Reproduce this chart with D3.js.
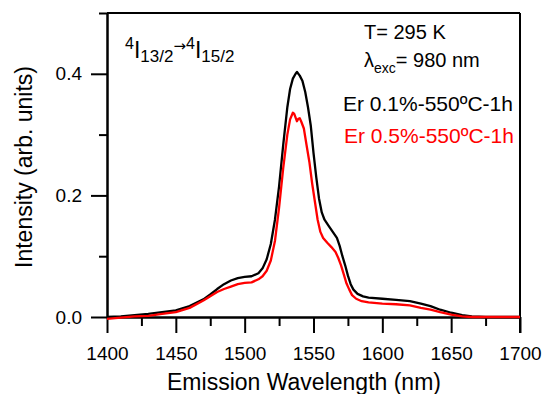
<!DOCTYPE html>
<html>
<head>
<meta charset="utf-8">
<script src="https://d3js.org/d3.v7.min.js"></script>
<style>
  body { margin: 0; background: #fff; }
  svg { display: block; font-family: "Liberation Sans", Arial, sans-serif; }
</style>
</head>
<body>
<div id="chart"></div>
<script>
// Emission spectra (wavelength nm, intensity arb. units)
const wlBlack = [1400, 1410, 1420, 1430, 1440, 1450, 1460, 1470, 1475, 1480, 1485, 1490, 1495, 1500, 1505, 1510, 1513, 1516, 1519, 1522, 1525, 1528, 1531, 1533, 1535, 1537, 1538, 1540, 1542, 1544, 1546, 1548, 1550, 1552, 1554, 1556, 1558, 1561, 1564, 1567, 1569, 1571, 1573, 1575, 1577, 1579, 1582, 1586, 1590, 1600, 1610, 1620, 1628, 1635, 1642, 1650, 1658, 1665, 1675, 1700];
const intBlack = [0.000, 0.001, 0.003, 0.005, 0.008, 0.011, 0.018, 0.029, 0.037, 0.046, 0.054, 0.060, 0.064, 0.066, 0.067, 0.072, 0.080, 0.095, 0.120, 0.160, 0.215, 0.283, 0.345, 0.375, 0.392, 0.400, 0.403, 0.397, 0.388, 0.370, 0.345, 0.315, 0.270, 0.230, 0.195, 0.172, 0.160, 0.150, 0.140, 0.130, 0.117, 0.100, 0.085, 0.068, 0.054, 0.045, 0.038, 0.034, 0.032, 0.030, 0.028, 0.026, 0.022, 0.018, 0.012, 0.007, 0.003, 0.001, 0.000, 0.000];

const wlRed = [1400, 1410, 1420, 1430, 1440, 1450, 1460, 1470, 1475, 1480, 1485, 1490, 1495, 1500, 1505, 1510, 1513, 1516, 1519, 1522, 1525, 1528, 1531, 1533, 1535, 1536, 1537, 1538, 1539, 1540, 1541, 1543, 1545, 1547, 1549, 1551, 1553, 1555, 1557, 1560, 1563, 1566, 1568, 1570, 1572, 1574, 1576, 1578, 1581, 1585, 1590, 1600, 1610, 1620, 1628, 1635, 1642, 1650, 1658, 1665, 1700];
const intRed = [-0.003, -0.001, 0.001, 0.002, 0.005, 0.008, 0.015, 0.027, 0.034, 0.041, 0.046, 0.050, 0.054, 0.056, 0.057, 0.062, 0.067, 0.076, 0.093, 0.125, 0.180, 0.245, 0.300, 0.325, 0.336, 0.334, 0.328, 0.322, 0.326, 0.327, 0.322, 0.310, 0.282, 0.255, 0.220, 0.190, 0.160, 0.140, 0.130, 0.122, 0.115, 0.107, 0.097, 0.085, 0.070, 0.055, 0.045, 0.036, 0.030, 0.026, 0.024, 0.022, 0.021, 0.019, 0.015, 0.012, 0.008, 0.004, 0.001, 0.000, 0.000];

const xMajor = [1400, 1450, 1500, 1550, 1600, 1650, 1700];
const xMinor = [1425, 1475, 1525, 1575, 1625, 1675];
const yMajor = [0.0, 0.2, 0.4];
const yMinor = [0.1, 0.3, 0.5];

const width = 544;
const height = 394;
const margin = { top: 13, right: 24, bottom: 77, left: 107 };

const svg = d3.select('#chart')
  .append('svg')
  .attr('width', width)
  .attr('height', height);

const x = d3.scaleLinear()
  .domain([1400, 1700])
  .range([margin.left, width - margin.right]);

const y = d3.scaleLinear()
  .domain([0, 0.5])
  .range([height - margin.bottom, margin.top]);

const styleAxis = g => {
  g.selectAll('path, line').style('stroke', '#000').style('stroke-width', '2px');
  g.selectAll('text').style('fill', '#000').style('font-size', '19px').style('font-family', '"Liberation Sans", Arial, sans-serif');
};

// X axis (sits at y = 0)
svg.append('g')
  .attr('transform', `translate(0, ${y(0)})`)
  .call(d3.axisBottom(x).tickValues(xMinor).tickSize(9).tickSizeOuter(0).tickFormat(''))
  .call(styleAxis);

svg.append('g')
  .attr('transform', `translate(0, ${y(0)})`)
  .call(d3.axisBottom(x).tickValues(xMajor).tickSize(16).tickSizeOuter(0).tickPadding(14).tickFormat(d3.format('d')))
  .call(styleAxis);

// Y axis
svg.append('g')
  .attr('transform', `translate(${x(1400)}, 0)`)
  .call(d3.axisLeft(y).tickValues(yMinor).tickSize(8).tickSizeOuter(0).tickFormat(''))
  .call(styleAxis);

svg.append('g')
  .attr('transform', `translate(${x(1400)}, 0)`)
  .call(d3.axisLeft(y).tickValues(yMajor).tickSize(16).tickSizeOuter(0).tickPadding(9).tickFormat(d3.format('.1f')))
  .call(styleAxis);

// Frame: top and right sides
svg.append('line')
  .attr('x1', x(1400)).attr('x2', x(1700))
  .attr('y1', y(0.5)).attr('y2', y(0.5))
  .style('stroke', '#000').style('stroke-width', '2px');

svg.append('line')
  .attr('x1', x(1700)).attr('x2', x(1700))
  .attr('y1', y(0.5)).attr('y2', y(0) + 16)
  .style('stroke', '#000').style('stroke-width', '2px');

// Spectra
const line = d3.line()
  .x(d => x(d[0]))
  .y(d => y(d[1]));

svg.append('path')
  .datum(d3.zip(wlBlack, intBlack))
  .attr('d', line)
  .attr('fill', 'none')
  .style('stroke', '#000')
  .style('stroke-width', '2.3px')
  .attr('stroke-linejoin', 'round');

svg.append('path')
  .datum(d3.zip(wlRed, intRed))
  .attr('d', line)
  .attr('fill', 'none')
  .style('stroke', '#ff0000')
  .style('stroke-width', '2.3px')
  .attr('stroke-linejoin', 'round');

// Axis titles
svg.append('text')
  .attr('x', 304)
  .attr('y', 390)
  .attr('text-anchor', 'middle')
  .attr('font-size', '23px')
  .text('Emission Wavelength (nm)');

svg.append('text')
  .attr('transform', 'translate(32, 167) rotate(-90)')
  .attr('text-anchor', 'middle')
  .attr('font-size', '23px')
  .text('Intensity (arb. units)');

// Transition label 4I13/2 -> 4I15/2
const trans = svg.append('text')
  .attr('x', 125)
  .attr('y', 58)
  .attr('font-size', '23px');
trans.append('tspan').attr('font-size', '16px').attr('dy', -9).text('4');
trans.append('tspan').attr('dy', 9).text('I');
trans.append('tspan').attr('font-size', '17px').attr('dy', 4).text('13/2');
trans.append('tspan').attr('font-size', '15px').attr('font-family', '"DejaVu Sans", sans-serif').attr('dy', -11).text('\u2192');
trans.append('tspan').attr('font-size', '16px').attr('dy', -2).text('4');
trans.append('tspan').attr('dy', 9).text('I');
trans.append('tspan').attr('font-size', '17px').attr('dy', 4).text('15/2');

// Conditions
svg.append('text')
  .attr('x', 364)
  .attr('y', 39)
  .attr('font-size', '20px')
  .text('T= 295 K');

const exc = svg.append('text')
  .attr('x', 364)
  .attr('y', 67)
  .attr('font-size', '20px');
exc.append('tspan').text('\u03bb');
exc.append('tspan').attr('font-size', '14px').attr('dy', 6).text('exc');
exc.append('tspan').attr('dy', -6).text('= 980 nm');

// Legend
svg.append('text')
  .attr('x', 343)
  .attr('y', 111)
  .attr('font-size', '21px')
  .attr('fill', '#000')
  .text('Er 0.1%-550\u00baC-1h');

svg.append('text')
  .attr('x', 344)
  .attr('y', 143)
  .attr('font-size', '21px')
  .attr('fill', '#ff0000')
  .text('Er 0.5%-550\u00baC-1h');
</script>
</body>
</html>
